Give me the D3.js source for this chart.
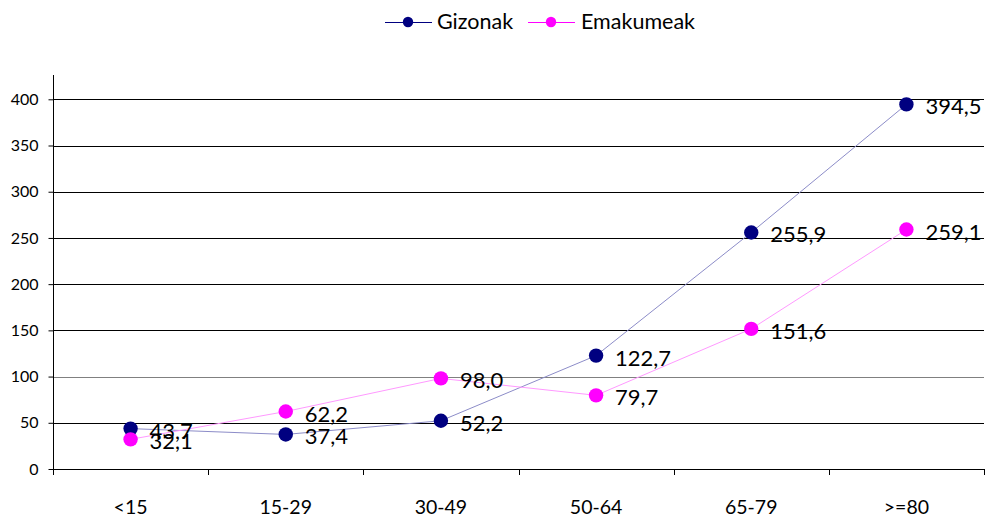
<!DOCTYPE html>
<html><head><meta charset="utf-8">
<script src="https://cdn.jsdelivr.net/npm/d3@7"></script>
<style>body{margin:0;background:#fff}svg{display:block}</style>
</head><body><svg id="c" width="987" height="519"></svg>
<script>
const categories = ["<15","15-29","30-49","50-64","65-79",">=80"];
const gizonak = [43.7,37.4,52.2,122.7,255.9,394.5];
const emakumeak = [32.1,62.2,98.0,79.7,151.6,259.1];
const yTicks = [0,50,100,150,200,250,300,350,400];
const seriesNames = ["Gizonak","Emakumeak"];

const svg = d3.select("#c");
const font = "Lato, 'Open Sans', sans-serif";
const L = 53, R = 984, T = 99.3, B = 469;
const x = d3.scaleBand().domain(categories).range([L,R]);
const y = d3.scaleLinear().domain([0,400]).range([B,T]);

// gridlines
svg.append("g").selectAll("line").data(yTicks.filter(d=>d>0)).join("line")
  .attr("x1",L).attr("x2",R).attr("y1",d=>Math.round(y(d))+0.5).attr("y2",d=>Math.round(y(d))+0.5)
  .attr("stroke",d=>d===100?"#808080":"#000").attr("stroke-width",1);

// y axis
const ya = svg.append("g").attr("transform",`translate(${L+0.5},0)`)
  .call(d3.axisLeft(y).tickValues(yTicks).tickSize(5).tickPadding(10).tickSizeOuter(0));
ya.select(".domain").attr("stroke","#000").attr("d",`M0,75V${B+6}`);
ya.selectAll(".tick line").attr("stroke","#000");
ya.selectAll("text").attr("font-family",font).attr("font-size",16).attr("fill","#000");

// x axis
svg.append("line").attr("x1",L).attr("x2",R).attr("y1",B+0.5).attr("y2",B+0.5).attr("stroke","#000");
const bounds = categories.map((c,i)=>x(c)).slice(1).concat([R]);
svg.append("g").selectAll("line").data(bounds).join("line")
  .attr("x1",d=>Math.round(d)+0.5).attr("x2",d=>Math.round(d)+0.5).attr("y1",B).attr("y2",B+6).attr("stroke","#000");
svg.append("g").selectAll("text").data(categories).join("text")
  .attr("x",d=>x(d)+x.bandwidth()/2).attr("y",514).attr("text-anchor","middle")
  .attr("font-family",font).attr("font-size",19.5).attr("fill","#000").text(d=>d);

const series = [
  {name:seriesNames[0], values:gizonak, color:"#000080", line:"#8c8cc8"},
  {name:seriesNames[1], values:emakumeak, color:"#ff00ff", line:"#ff99ff"}
];
const cx = c => x(c)+x.bandwidth()/2;
const fmt = v => v.toFixed(1).replace(".",",");
series.forEach(s=>{
  const g = svg.append("g");
  g.append("path").datum(s.values)
    .attr("d", d3.line().x((d,i)=>cx(categories[i])).y(d=>y(d)))
    .attr("fill","none").attr("stroke",s.line).attr("stroke-width",1);
  g.selectAll("circle").data(s.values).join("circle")
    .attr("cx",(d,i)=>cx(categories[i])).attr("cy",d=>y(d)).attr("r",7.2).attr("fill",s.color);
});
series.forEach(s=>{
  svg.append("g").selectAll("text").data(s.values).join("text")
    .attr("x",(d,i)=>cx(categories[i])+19).attr("y",d=>y(d)+10)
    .attr("font-family",font).attr("font-size",22).attr("fill","#000").text(fmt);
});

// legend
const leg = [{x0:385, tx:437},{x0:528, tx:581}];
series.forEach((s,i)=>{
  const g = svg.append("g");
  g.append("line").attr("x1",leg[i].x0).attr("x2",leg[i].x0+47).attr("y1",22.5).attr("y2",22.5).attr("stroke",s.color).attr("stroke-width",1);
  g.append("circle").attr("cx",leg[i].x0+23).attr("cy",22).attr("r",5.2).attr("fill",s.color);
  g.append("text").attr("x",leg[i].tx).attr("y",29).attr("font-family",font).attr("font-size",21.5).attr("fill","#000").text(s.name);
});
</script></body></html>
